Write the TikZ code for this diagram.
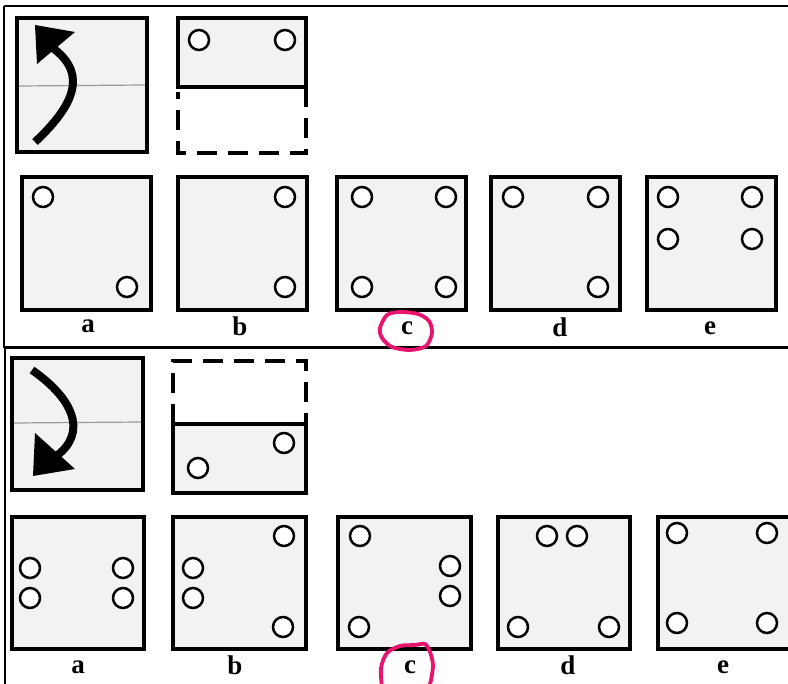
\documentclass[tikz,border=0pt]{standalone}
\usepackage{fontspec}
\setmainfont{Liberation Serif}
\usetikzlibrary{positioning}
\definecolor{panel}{HTML}{F2F2F2}
\definecolor{marker}{HTML}{E8146E}
\definecolor{fold}{HTML}{9A9A9A}

\begin{document}
\begin{tikzpicture}[x=1pt, y=-1pt,
  card/.style={draw, line width=4.8pt, fill=panel},
  cardthin/.style={draw, line width=3.5pt, fill=panel},
  hole/.style={draw, line width=2.5pt, fill=white},
  cutline/.style={draw, line width=3.5pt, dash pattern=on 20pt off 11pt},
  crease/.style={draw=fold, line width=1.2pt},
  letter/.style={font=\fontsize{27}{27}\selectfont\bfseries, inner sep=0pt},
  ring/.style={draw=marker, line width=3.8pt, line cap=round, line join=round},
]
  \useasboundingbox (0,0) rectangle (788,684);
  \fill[white] (0,0) rectangle (788,684);

  % frames
  \draw[line width=2.5pt] (4,6) -- (790,6);
  \draw[line width=1.2pt] (4,6) -- (4,348);
  \draw[line width=3pt] (4,348) -- (790,348);
  \draw[line width=1.2pt] (5,348) -- (5,686);

  % top question
  \draw[card] (17,18) rectangle (147,152);
  \draw[crease] (19,86) -- (145,85);
  \draw[line width=8pt] (35,142) .. controls (80,100) and (85,70) .. (50,46);
  \fill (35,25) -- (75,32) -- (37,64) -- cycle;
  \draw[card] (178,18) rectangle (306,87);
  \draw[cutline] (306,87) -- (306,153) -- (178,153) -- (178,92);
  \foreach \p in {(199,40),(285,40)}
    \draw[hole] \p circle (10);

  % top answers
  \foreach \x in {22,178,337,491,647}
    \draw[card] (\x,177) rectangle ++(129,133);
  \foreach \p in {(43,197),(127,287),
                  (285,197),(285,287),
                  (362,197),(446,197),(362,287),(446,287),
                  (513,197),(598,197),(598,287),
                  (668,197),(752,197),(668,239),(752,239)}
    \draw[hole] \p circle (10);
  \node[letter] (ta) at (88,326) {a};
  \node[letter] (tb) at (240,326) {b};
  \node[letter] (tc) at (407,328) {c};
  \node[letter] (td) at (560,327) {d};
  \node[letter] (te) at (710,328) {e};
  \draw[ring] plot[smooth cycle] coordinates {(380,328) (387,315) (400,312) (418,314)
    (429,321) (432,333) (426,346) (410,350) (392,347) (382,338)};

  % bottom question
  \draw[cardthin] (12,358) rectangle (143,490);
  \draw[crease] (14,423) -- (141,422);
  \draw[line width=8pt] (32,370) .. controls (82,405) and (85,440) .. (50,460);
  \fill (33,476) -- (35,433) -- (75,469) -- cycle;
  \draw[cutline] (173,424) -- (173,361) -- (306,361) -- (306,424);
  \draw[cardthin] (173,424) rectangle (306,493);
  \foreach \p in {(284,443),(198,468)}
    \draw[hole] \p circle (10);

  % bottom answers
  \foreach \x/\w in {12/132,173/133,338/133,498/132,658/132}
    \draw[cardthin] (\x,517) rectangle ++(\w,132);
  \foreach \p in {(30,568),(30,598),(123,568),(123,598),
                  (284,536),(193,568),(193,598),(283,627),
                  (360,536),(450,566),(450,596),(359,627),
                  (547,536),(577,536),(518,627),(609,627),
                  (677,533),(767,533),(677,623),(767,623)}
    \draw[hole] \p circle (10);
  \node[letter] (ba) at (78,667) {a};
  \node[letter] (bb) at (235,665) {b};
  \node[letter] (bc) at (410,667) {c};
  \node[letter] (bd) at (568,665) {d};
  \node[letter] (be) at (723,667) {e};
  \draw[ring] plot[smooth] coordinates {(382,688) (381,668) (387,653) (400,646)
    (415,645) (425,644) (430,652) (433,665) (431,680) (428,690)};
\end{tikzpicture}
\end{document}
